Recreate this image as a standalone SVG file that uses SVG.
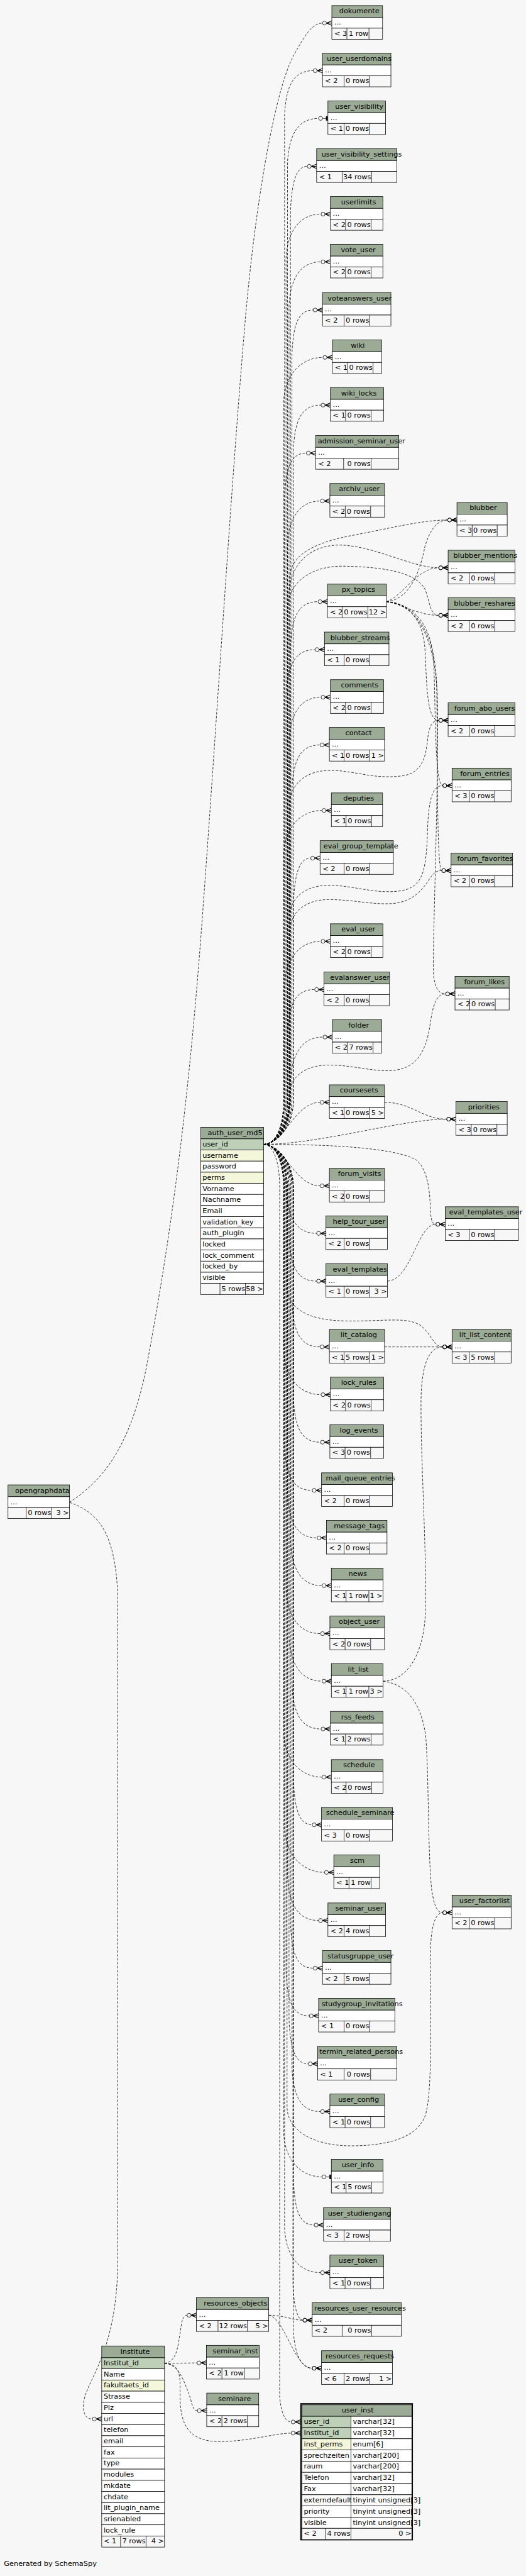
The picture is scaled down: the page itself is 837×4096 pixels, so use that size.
<svg xmlns="http://www.w3.org/2000/svg" width="837" height="4096" viewBox="0 0 837 4096">
<style>
.h{fill:#9bab96;stroke:#000}
.w{fill:#fff;stroke:#000}
.f{fill:#f7f7f7;stroke:#000}
.p{fill:#bed1b8;stroke:#000}
.i{fill:#f4f7da;stroke:#000}
.l{stroke:#000;fill:none}
text{font-family:"DejaVu Sans","Liberation Sans",sans-serif;font-size:14.5px;fill:#000}
.r{text-anchor:end}
.e{fill:none;stroke:#000;stroke-width:1;stroke-dasharray:5 3;marker-end:url(#crow)}
.t{marker-end:url(#tee)}
</style>
<defs>
<marker id="crow" markerUnits="userSpaceOnUse" viewBox="-1 -6 22 12" refX="0" refY="0" markerWidth="22" markerHeight="12" orient="auto">
<circle cx="4" cy="0" r="4" fill="none" stroke="#000" stroke-width="1"/>
<path d="M8,0L19,-4.5M8,0L19,4.5M8,0H19" stroke="#000" stroke-width="1.4" fill="none"/>
</marker>
<marker id="tee" markerUnits="userSpaceOnUse" viewBox="-1 -6 22 12" refX="0" refY="0" markerWidth="22" markerHeight="12" orient="auto">
<circle cx="4" cy="0" r="4" fill="none" stroke="#000" stroke-width="1"/>
<path d="M8,0H19" stroke="#000" stroke-width="1" fill="none"/>
<rect x="15" y="-4.5" width="3.5" height="9" fill="#000"/>
</marker>
</defs>
<rect width="837" height="4096" fill="#f7f7f7"/>
<g transform="scale(0.78078)">
<g id="connectors">
<path class="e" d="M141.7,3059.7C200,3020 265,2960 300,2776C340,2560 380,2300 410,1900C440,1500 470,1000 500,650C520,420 560,180 600,110C620,75 635,47.1 657.3,47.1"/>
<path class="e" d="M141.7,3059.7C200,3080 235,3120 240,3250L240,4600C240,4800 170,4850 170,4900C170,4920 178,4926.3 188.3,4926.3"/>
<path class="e" d="M537.3,2330.5C560,2330.5 580,2300 580,2240L580,233.9C583,173.9 598.3,143.9 638.3,143.9"/>
<path class="e t" d="M537.3,2330.5C560,2330.5 586,2300 586,2240L586,331.1C589,271.1 609.3,241.1 649.3,241.1"/>
<path class="e" d="M537.3,2330.5C560,2330.5 592,2300 592,2240L592,428.7C595,368.7 604,338.7 626.3,338.7"/>
<path class="e" d="M537.3,2330.5C560,2330.5 583,2300 583,2240L583,526C586,466 614.3,436 654.3,436"/>
<path class="e" d="M537.3,2330.5C560,2330.5 589,2300 589,2240L589,623.2C592,563.2 614.3,533.2 654.3,533.2"/>
<path class="e" d="M537.3,2330.5C560,2330.5 595,2300 595,2240L595,721.3C598,661.3 607,631.3 638.3,631.3"/>
<path class="e" d="M537.3,2330.5C560,2330.5 578,2300 578,2240L578,817.8C581,757.8 618.3,727.8 658.3,727.8"/>
<path class="e" d="M537.3,2330.5C560,2330.5 598,2300 598,2240L598,915C601,855 614.3,825 654.3,825"/>
<path class="e" d="M537.3,2330.5C560,2330.5 580,2300 580,2240L580,1012.7C583,952.7 592,922.7 624.3,922.7"/>
<path class="e" d="M537.3,2330.5C560,2330.5 586,2300 586,2240L586,1110.3C589,1050.3 613.3,1020.3 653.3,1020.3"/>
<path class="e" d="M537.3,2330.5C560,2330.5 592,2300 592,2240L592,1315.3C595,1255.3 608.3,1225.3 648.3,1225.3"/>
<path class="e" d="M537.3,2330.5C560,2330.5 583,2300 583,2240L583,1412.9C586,1352.9 602.3,1322.9 642.3,1322.9"/>
<path class="e" d="M537.3,2330.5C560,2330.5 589,2300 589,2240L589,1509.9C592,1449.9 614.3,1419.9 654.3,1419.9"/>
<path class="e" d="M537.3,2330.5C560,2330.5 595,2300 595,2240L595,1607.1C598,1547.1 612.3,1517.1 652.3,1517.1"/>
<path class="e" d="M537.3,2330.5C560,2330.5 578,2300 578,2240L578,1740.5C581,1680.5 616.3,1650.5 656.3,1650.5"/>
<path class="e" d="M537.3,2330.5C560,2330.5 598,2300 598,2240L598,1837.7C601,1777.7 610,1747.7 633.3,1747.7"/>
<path class="e" d="M537.3,2330.5C560,2330.5 580,2300 580,2240L580,2007C583,1947 614.3,1917 654.3,1917"/>
<path class="e" d="M537.3,2330.5C560,2330.5 586,2300 586,2240L586,2105.2C589,2045.2 601.3,2015.2 641.3,2015.2"/>
<path class="e" d="M537.3,2330.5C560,2330.5 592,2300 592,2240L592,2202C595,2142 618.3,2112 658.3,2112"/>
<path class="e" d="M537.3,2330.5C580,2330.5 600,2245 652.3,2245"/>
<path class="e" d="M537.3,2330.5C580,2330.5 600,2415 652.3,2415"/>
<path class="e" d="M537.3,2330.5C560,2330.5 583,2360 583,2420L583,2421.8C586,2481.8 605.3,2511.8 645.3,2511.8"/>
<path class="e" d="M537.3,2330.5C560,2330.5 589,2360 589,2420L589,2519.1C592,2579.1 605.3,2609.1 645.3,2609.1"/>
<path class="e" d="M537.3,2330.5C560,2330.5 595,2360 595,2420L595,2653C598,2713 612.3,2743 652.3,2743"/>
<path class="e" d="M537.3,2330.5C560,2330.5 578,2360 578,2420L578,2750.3C581,2810.3 614.3,2840.3 654.3,2840.3"/>
<path class="e" d="M537.3,2330.5C560,2330.5 598,2360 598,2420L598,2847.1C601,2907.1 613.3,2937.1 653.3,2937.1"/>
<path class="e" d="M537.3,2330.5C560,2330.5 580,2360 580,2420L580,2945.1C583,3005.1 596.3,3035.1 636.3,3035.1"/>
<path class="e" d="M537.3,2330.5C560,2330.5 586,2360 586,2420L586,3041.9C589,3101.9 606.3,3131.9 646.3,3131.9"/>
<path class="e" d="M537.3,2330.5C560,2330.5 592,2360 592,2420L592,3139.2C595,3199.2 616.3,3229.2 656.3,3229.2"/>
<path class="e" d="M537.3,2330.5C560,2330.5 583,2360 583,2420L583,3236.9C586,3296.9 613.3,3326.9 653.3,3326.9"/>
<path class="e" d="M537.3,2330.5C560,2330.5 589,2360 589,2420L589,3333.7C592,3393.7 616.3,3423.7 656.3,3423.7"/>
<path class="e" d="M537.3,2330.5C560,2330.5 595,2360 595,2420L595,3431C598,3491 614.3,3521 654.3,3521"/>
<path class="e" d="M537.3,2330.5C560,2330.5 578,2360 578,2420L578,3529.1C581,3589.1 616.3,3619.1 656.3,3619.1"/>
<path class="e" d="M537.3,2330.5C560,2330.5 598,2360 598,2420L598,3626.3C601,3686.3 610,3716.3 636.3,3716.3"/>
<path class="e" d="M537.3,2330.5C560,2330.5 580,2360 580,2420L580,3723.1C583,3783.1 621.3,3813.1 661.3,3813.1"/>
<path class="e" d="M537.3,2330.5C560,2330.5 586,2360 586,2420L586,3821.1C589,3881.1 609.3,3911.1 649.3,3911.1"/>
<path class="e" d="M537.3,2330.5C560,2330.5 592,2360 592,2420L592,3918.1C595,3978.1 604,4008.1 638.3,4008.1"/>
<path class="e" d="M537.3,2330.5C560,2330.5 583,2360 583,2420L583,4015.3C586,4075.3 595,4105.3 630.3,4105.3"/>
<path class="e" d="M537.3,2330.5C560,2330.5 589,2360 589,2420L589,4113C592,4173 601,4203 628.3,4203"/>
<path class="e" d="M537.3,2330.5C560,2330.5 595,2360 595,2420L595,4210.2C598,4270.2 613.3,4300.2 653.3,4300.2"/>
<path class="e t" d="M537.3,2330.5C560,2330.5 578,2360 578,2420L578,4343.2C581,4403.2 616.3,4433.2 656.3,4433.2"/>
<path class="e" d="M537.3,2330.5C560,2330.5 598,2360 598,2420L598,4441.3C601,4501.3 610,4531.3 640.3,4531.3"/>
<path class="e" d="M537.3,2330.5C560,2330.5 580,2360 580,2420L580,4538.2C583,4598.2 613.3,4628.2 653.3,4628.2"/>
<path class="e" d="M537.3,2330.5C560,2330.5 597,2360 597,2420L597,4650C598,4690 605,4725.1 617.3,4725.1"/>
<path class="e" d="M537.3,2330.5C560,2330.5 598,2360 598,2420L598,4745C600,4790 612,4822.9 636.3,4822.9"/>
<path class="e" d="M537.3,2330.5C555,2330.5 570,2360 570,2420L570,4880C572,4910 580,4932.3 593.3,4932.3"/>
<path class="e" d="M537.3,2330.5C560,2330.5 590,2300 590,2240L590,1180C590,1130 640,1105 720,1090C800,1075 860,1059 912.3,1059"/>
<path class="e" d="M537.3,2330.5C560,2330.5 588,2300 588,2240L588,1220C588,1160 620,1112 690,1110C760,1110 840,1156.3 894.3,1156.3"/>
<path class="e" d="M537.3,2330.5C560,2330.5 586,2300 586,2240L586,1240C586,1190 630,1152 700,1153C800,1155 850,1170 866,1200C876,1222 875,1253.1 894.3,1253.1"/>
<path class="e" d="M537.3,2330.5C560,2330.5 590,2300 590,2240L590,1640C590,1600 620,1570 670,1569C720,1568 760,1588 820,1580C860,1575 868,1540 871,1510C874,1480 880,1467 894.3,1467"/>
<path class="e" d="M537.3,2330.5C560,2330.5 590,2300 590,2240L590,1870C590,1830 620,1803 670,1803C720,1803 760,1820 810,1815C860,1810 868,1780 871,1700C873,1630 880,1600 902.3,1600"/>
<path class="e" d="M537.3,2330.5C560,2330.5 590,2300 590,2240L590,1900C590,1860 620,1832 670,1832C720,1832 760,1843 800,1840C850,1836 868,1800 878,1786C885,1777 890,1773 900.3,1773"/>
<path class="e" d="M537.3,2330.5C560,2330.5 590,2290 590,2250L590,2230C590,2195 620,2169 670,2169C720,2169 760,2183 800,2180C850,2176 868,2140 876,2090C882,2045 890,2024 908.3,2024"/>
<path class="e" d="M537.3,2330.5C650,2330.5 820,2279.1 910.3,2279.1"/>
<path class="e" d="M537.3,2330.5C650,2330.5 800,2335 848,2362C873,2382 876,2430 877,2460C878,2482 880,2493.3 888.3,2493.3"/>
<path class="e" d="M537.3,2330.5C560,2330.5 585,2360 585,2420L585,2620C585,2660 620,2688 700,2690C780,2692 830,2680 858,2700C878,2715 884,2743 902.3,2743"/>
<path class="e" d="M537.3,2330.5C560,2330.5 585,2360 585,2420L585,4290C585,4340 640,4371 720,4370C800,4369 850,4350 866,4310C882,4270 877,4100 877,3990C877,3930 885,3895.2 902.3,3895.2"/>
<path class="e" d="M787.7,1225.3C820,1222 850,1195 866,1113C876,1080 890,1059 912.3,1059"/>
<path class="e" d="M787.7,1225.3C820,1215 850,1156.3 894.3,1156.3"/>
<path class="e" d="M787.7,1225.3C820,1230 850,1253.1 894.3,1253.1"/>
<path class="e" d="M787.7,1225.3C840,1230 862,1270 866,1320C870,1400 870,1467 894.3,1467"/>
<path class="e" d="M787.7,1225.3C840,1228 880,1270 884,1350C888,1450 886,1600 902.3,1600"/>
<path class="e" d="M787.7,1225.3C840,1228 888,1280 890,1400C892,1550 890,1773 900.3,1773"/>
<path class="e" d="M787.7,1225.3C845,1230 892,1290 892,1450C892,1700 880,1950 884,1990C888,2015 895,2024 908.3,2024"/>
<path class="e" d="M783.7,2245C840,2245 860,2279.1 910.3,2279.1"/>
<path class="e" d="M789.7,2609.1C840,2605 850,2493.3 888.3,2493.3"/>
<path class="e" d="M783.7,2743L902.3,2743"/>
<path class="e" d="M780.7,3423.7C830,3423 860,3370 866,3300C872,3200 858,3000 858,2860C858,2790 870,2743 902.3,2743"/>
<path class="e" d="M780.7,3423.7C830,3430 860,3470 868,3540C874,3620 872,3780 880,3850C885,3880 890,3895.2 902.3,3895.2"/>
<path class="e" d="M547.7,4715C580,4715 595,4725.1 617.3,4725.1"/>
<path class="e" d="M547.7,4715C580,4720 600,4822.9 636.3,4822.9"/>
<path class="e" d="M335.3,4812.8C360,4810 362,4780 366,4758C370,4735 370,4715 381.3,4715"/>
<path class="e" d="M335.3,4812.8L401.7,4812.1"/>
<path class="e" d="M335.3,4812.8C365,4815 375,4850 385,4875C392,4895 392,4909.2 402.3,4909.2"/>
<path class="e" d="M335.3,4812.8C370,4815 367,4840 367,4880C367,4930 380,4970 440,4972C500,4974 560,4955.1 593.3,4955.1"/>
</g>

<g id="dokumente" transform="translate(676.3,11.4)"><rect class="h" width="103.4" height="24"/><rect class="w" y="24" width="103.4" height="22"/><rect class="f" y="46" width="103.4" height="22.6"/><path class="l" d="M30.7,46v22.6M75.7,46v22.6"/><text x="15" y="16">dokumente</text><text x="5" y="39">...</text><text x="5" y="61.5">&lt; 3</text><text class="r" x="74.7" y="61.5">1 row</text></g>
<g id="user_userdomains" transform="translate(657.3,108.2)"><rect class="h" width="139.4" height="24"/><rect class="w" y="24" width="139.4" height="22"/><rect class="f" y="46" width="139.4" height="22.6"/><path class="l" d="M44,46v22.6M96,46v22.6"/><text x="8.7" y="16">user_userdomains</text><text x="5" y="39">...</text><text x="5" y="61.5">&lt; 2</text><text class="r" x="95" y="61.5">0 rows</text></g>
<g id="user_visibility" transform="translate(668.3,205.4)"><rect class="h" width="117.4" height="24"/><rect class="w" y="24" width="117.4" height="22"/><rect class="f" y="46" width="117.4" height="22.6"/><path class="l" d="M33,46v22.6M84.7,46v22.6"/><text x="14.7" y="16">user_visibility</text><text x="5" y="39">...</text><text x="5" y="61.5">&lt; 1</text><text class="r" x="83.7" y="61.5">0 rows</text></g>
<g id="user_visibility_settings" transform="translate(645.3,303)"><rect class="h" width="163.4" height="24"/><rect class="w" y="24" width="163.4" height="22"/><rect class="f" y="46" width="163.4" height="22.6"/><path class="l" d="M52,46v22.6M112,46v22.6"/><text x="10" y="16">user_visibility_settings</text><text x="5" y="39">...</text><text x="5" y="61.5">&lt; 1</text><text class="r" x="111" y="61.5">34 rows</text></g>
<g id="userlimits" transform="translate(673.3,400.3)"><rect class="h" width="107" height="24"/><rect class="w" y="24" width="107" height="22"/><rect class="f" y="46" width="107" height="22.6"/><path class="l" d="M31,46v22.6M83,46v22.6"/><text x="22" y="16">userlimits</text><text x="5" y="39">...</text><text x="5" y="61.5">&lt; 2</text><text class="r" x="82" y="61.5">0 rows</text></g>
<g id="vote_user" transform="translate(673.3,497.5)"><rect class="h" width="107" height="24"/><rect class="w" y="24" width="107" height="22"/><rect class="f" y="46" width="107" height="22.6"/><path class="l" d="M31,46v22.6M83,46v22.6"/><text x="21.4" y="16">vote_user</text><text x="5" y="39">...</text><text x="5" y="61.5">&lt; 2</text><text class="r" x="82" y="61.5">0 rows</text></g>
<g id="voteanswers_user" transform="translate(657.3,595.6)"><rect class="h" width="139.4" height="24"/><rect class="w" y="24" width="139.4" height="22"/><rect class="f" y="46" width="139.4" height="22.6"/><path class="l" d="M44,46v22.6M96,46v22.6"/><text x="10.4" y="16">voteanswers_user</text><text x="5" y="39">...</text><text x="5" y="61.5">&lt; 2</text><text class="r" x="95" y="61.5">0 rows</text></g>
<g id="wiki" transform="translate(677.3,692.1)"><rect class="h" width="100.4" height="24"/><rect class="w" y="24" width="100.4" height="22"/><rect class="f" y="46" width="100.4" height="22.6"/><path class="l" d="M31,46v22.6M83,46v22.6"/><text x="37.7" y="16">wiki</text><text x="5" y="39">...</text><text x="5" y="61.5">&lt; 1</text><text class="r" x="82" y="61.5">0 rows</text></g>
<g id="wiki_locks" transform="translate(673.3,789.3)"><rect class="h" width="108.4" height="24"/><rect class="w" y="24" width="108.4" height="22"/><rect class="f" y="46" width="108.4" height="22.6"/><path class="l" d="M31,46v22.6M83,46v22.6"/><text x="22" y="16">wiki_locks</text><text x="5" y="39">...</text><text x="5" y="61.5">&lt; 1</text><text class="r" x="82" y="61.5">0 rows</text></g>
<g id="admission_seminar_user" transform="translate(643.3,887)"><rect class="h" width="169.4" height="24"/><rect class="w" y="24" width="169.4" height="22"/><rect class="f" y="46" width="169.4" height="22.6"/><path class="l" d="M57,46v22.6M113,46v22.6"/><text x="4.4" y="16">admission_seminar_user</text><text x="5" y="39">...</text><text x="5" y="61.5">&lt; 2</text><text class="r" x="112" y="61.5">0 rows</text></g>
<g id="archiv_user" transform="translate(672.3,984.6)"><rect class="h" width="111.4" height="24"/><rect class="w" y="24" width="111.4" height="22"/><rect class="f" y="46" width="111.4" height="22.6"/><path class="l" d="M31.4,46v22.6M83,46v22.6"/><text x="18.4" y="16">archiv_user</text><text x="5" y="39">...</text><text x="5" y="61.5">&lt; 2</text><text class="r" x="82" y="61.5">0 rows</text></g>
<g id="px_topics" transform="translate(667.3,1189.6)"><rect class="h" width="120.4" height="24"/><rect class="w" y="24" width="120.4" height="22"/><rect class="f" y="46" width="120.4" height="22.6"/><path class="l" d="M30,46v22.6M82.4,46v22.6"/><text x="29" y="16">px_topics</text><text x="5" y="39">...</text><text x="5" y="61.5">&lt; 2</text><text class="r" x="81.4" y="61.5">0 rows</text><text class="r" x="119.4" y="61.5">12 &gt;</text></g>
<g id="blubber_streams" transform="translate(661.3,1287.2)"><rect class="h" width="131.4" height="24"/><rect class="w" y="24" width="131.4" height="22"/><rect class="f" y="46" width="131.4" height="22.6"/><path class="l" d="M40,46v22.6M92,46v22.6"/><text x="12" y="16">blubber_streams</text><text x="5" y="39">...</text><text x="5" y="61.5">&lt; 1</text><text class="r" x="91" y="61.5">0 rows</text></g>
<g id="comments" transform="translate(673.3,1384.2)"><rect class="h" width="108.4" height="24"/><rect class="w" y="24" width="108.4" height="22"/><rect class="f" y="46" width="108.4" height="22.6"/><path class="l" d="M31,46v22.6M83,46v22.6"/><text x="21.4" y="16">comments</text><text x="5" y="39">...</text><text x="5" y="61.5">&lt; 2</text><text class="r" x="82" y="61.5">0 rows</text></g>
<g id="contact" transform="translate(671.3,1481.4)"><rect class="h" width="112.4" height="24"/><rect class="w" y="24" width="112.4" height="22"/><rect class="f" y="46" width="112.4" height="22.6"/><path class="l" d="M30,46v22.6M82,46v22.6"/><text x="32.4" y="16">contact</text><text x="5" y="39">...</text><text x="5" y="61.5">&lt; 1</text><text class="r" x="81" y="61.5">0 rows</text><text class="r" x="111.4" y="61.5">1 &gt;</text></g>
<g id="deputies" transform="translate(675.3,1614.8)"><rect class="h" width="104.4" height="24"/><rect class="w" y="24" width="104.4" height="22"/><rect class="f" y="46" width="104.4" height="22.6"/><path class="l" d="M30,46v22.6M82,46v22.6"/><text x="24.4" y="16">deputies</text><text x="5" y="39">...</text><text x="5" y="61.5">&lt; 1</text><text class="r" x="81" y="61.5">0 rows</text></g>
<g id="eval_group_template" transform="translate(652.3,1712)"><rect class="h" width="149.4" height="24"/><rect class="w" y="24" width="149.4" height="22"/><rect class="f" y="46" width="149.4" height="22.6"/><path class="l" d="M49,46v22.6M101,46v22.6"/><text x="7" y="16">eval_group_template</text><text x="5" y="39">...</text><text x="5" y="61.5">&lt; 2</text><text class="r" x="100" y="61.5">0 rows</text></g>
<g id="eval_user" transform="translate(673.3,1881.3)"><rect class="h" width="107" height="24"/><rect class="w" y="24" width="107" height="22"/><rect class="f" y="46" width="107" height="22.6"/><path class="l" d="M31,46v22.6M83,46v22.6"/><text x="22.4" y="16">eval_user</text><text x="5" y="39">...</text><text x="5" y="61.5">&lt; 2</text><text class="r" x="82" y="61.5">0 rows</text></g>
<g id="evalanswer_user" transform="translate(660.3,1979.5)"><rect class="h" width="133.4" height="24"/><rect class="w" y="24" width="133.4" height="22"/><rect class="f" y="46" width="133.4" height="22.6"/><path class="l" d="M41,46v22.6M93,46v22.6"/><text x="12.4" y="16">evalanswer_user</text><text x="5" y="39">...</text><text x="5" y="61.5">&lt; 2</text><text class="r" x="92" y="61.5">0 rows</text></g>
<g id="folder" transform="translate(677.3,2076.3)"><rect class="h" width="100.4" height="24"/><rect class="w" y="24" width="100.4" height="22"/><rect class="f" y="46" width="100.4" height="22.6"/><path class="l" d="M31,46v22.6M83,46v22.6"/><text x="32.7" y="16">folder</text><text x="5" y="39">...</text><text x="5" y="61.5">&lt; 2</text><text class="r" x="82" y="61.5">7 rows</text></g>
<g id="coursesets" transform="translate(671.3,2209.3)"><rect class="h" width="112.4" height="24"/><rect class="w" y="24" width="112.4" height="22"/><rect class="f" y="46" width="112.4" height="22.6"/><path class="l" d="M30,46v22.6M82,46v22.6"/><text x="21.4" y="16">coursesets</text><text x="5" y="39">...</text><text x="5" y="61.5">&lt; 1</text><text class="r" x="81" y="61.5">0 rows</text><text class="r" x="111.4" y="61.5">5 &gt;</text></g>
<g id="forum_visits" transform="translate(671.3,2379.3)"><rect class="h" width="112.4" height="24"/><rect class="w" y="24" width="112.4" height="22"/><rect class="f" y="46" width="112.4" height="22.6"/><path class="l" d="M30,46v22.6M82,46v22.6"/><text x="17.4" y="16">forum_visits</text><text x="5" y="39">...</text><text x="5" y="61.5">&lt; 2</text><text class="r" x="81" y="61.5">0 rows</text></g>
<g id="help_tour_user" transform="translate(664.3,2476.1)"><rect class="h" width="125.4" height="24"/><rect class="w" y="24" width="125.4" height="22"/><rect class="f" y="46" width="125.4" height="22.6"/><path class="l" d="M37,46v22.6M89,46v22.6"/><text x="14" y="16">help_tour_user</text><text x="5" y="39">...</text><text x="5" y="61.5">&lt; 2</text><text class="r" x="88" y="61.5">0 rows</text></g>
<g id="eval_templates" transform="translate(664.3,2573.4)"><rect class="h" width="125.4" height="24"/><rect class="w" y="24" width="125.4" height="22"/><rect class="f" y="46" width="125.4" height="22.6"/><path class="l" d="M37,46v22.6M89,46v22.6"/><text x="14" y="16">eval_templates</text><text x="5" y="39">...</text><text x="5" y="61.5">&lt; 1</text><text class="r" x="88" y="61.5">0 rows</text><text class="r" x="124.4" y="61.5">3 &gt;</text></g>
<g id="lit_catalog" transform="translate(671.3,2707.3)"><rect class="h" width="112.4" height="24"/><rect class="w" y="24" width="112.4" height="22"/><rect class="f" y="46" width="112.4" height="22.6"/><path class="l" d="M30,46v22.6M82,46v22.6"/><text x="22.7" y="16">lit_catalog</text><text x="5" y="39">...</text><text x="5" y="61.5">&lt; 1</text><text class="r" x="81" y="61.5">5 rows</text><text class="r" x="111.4" y="61.5">1 &gt;</text></g>
<g id="lock_rules" transform="translate(673.3,2804.6)"><rect class="h" width="108.4" height="24"/><rect class="w" y="24" width="108.4" height="22"/><rect class="f" y="46" width="108.4" height="22.6"/><path class="l" d="M31,46v22.6M83,46v22.6"/><text x="21.7" y="16">lock_rules</text><text x="5" y="39">...</text><text x="5" y="61.5">&lt; 2</text><text class="r" x="82" y="61.5">0 rows</text></g>
<g id="log_events" transform="translate(672.3,2901.4)"><rect class="h" width="109.4" height="24"/><rect class="w" y="24" width="109.4" height="22"/><rect class="f" y="46" width="109.4" height="22.6"/><path class="l" d="M31,46v22.6M83,46v22.6"/><text x="20" y="16">log_events</text><text x="5" y="39">...</text><text x="5" y="61.5">&lt; 3</text><text class="r" x="82" y="61.5">0 rows</text></g>
<g id="mail_queue_entries" transform="translate(655.3,2999.4)"><rect class="h" width="144.4" height="24"/><rect class="w" y="24" width="144.4" height="22"/><rect class="f" y="46" width="144.4" height="22.6"/><path class="l" d="M46,46v22.6M98,46v22.6"/><text x="8.7" y="16">mail_queue_entries</text><text x="5" y="39">...</text><text x="5" y="61.5">&lt; 2</text><text class="r" x="97" y="61.5">0 rows</text></g>
<g id="message_tags" transform="translate(665.3,3096.2)"><rect class="h" width="123.4" height="24"/><rect class="w" y="24" width="123.4" height="22"/><rect class="f" y="46" width="123.4" height="22.6"/><path class="l" d="M36,46v22.6M88,46v22.6"/><text x="15" y="16">message_tags</text><text x="5" y="39">...</text><text x="5" y="61.5">&lt; 2</text><text class="r" x="87" y="61.5">0 rows</text></g>
<g id="news" transform="translate(675.3,3193.5)"><rect class="h" width="105.4" height="24"/><rect class="w" y="24" width="105.4" height="22"/><rect class="f" y="46" width="105.4" height="22.6"/><path class="l" d="M30,46v22.6M76.4,46v22.6"/><text x="35" y="16">news</text><text x="5" y="39">...</text><text x="5" y="61.5">&lt; 1</text><text class="r" x="75.4" y="61.5">1 row</text><text class="r" x="104.4" y="61.5">1 &gt;</text></g>
<g id="object_user" transform="translate(672.3,3291.2)"><rect class="h" width="111.4" height="24"/><rect class="w" y="24" width="111.4" height="22"/><rect class="f" y="46" width="111.4" height="22.6"/><path class="l" d="M31,46v22.6M83,46v22.6"/><text x="18" y="16">object_user</text><text x="5" y="39">...</text><text x="5" y="61.5">&lt; 2</text><text class="r" x="82" y="61.5">0 rows</text></g>
<g id="lit_list" transform="translate(675.3,3388)"><rect class="h" width="105.4" height="24"/><rect class="w" y="24" width="105.4" height="22"/><rect class="f" y="46" width="105.4" height="22.6"/><path class="l" d="M30,46v22.6M76.4,46v22.6"/><text x="33.7" y="16">lit_list</text><text x="5" y="39">...</text><text x="5" y="61.5">&lt; 1</text><text class="r" x="75.4" y="61.5">1 row</text><text class="r" x="104.4" y="61.5">3 &gt;</text></g>
<g id="rss_feeds" transform="translate(673.3,3485.3)"><rect class="h" width="107.4" height="24"/><rect class="w" y="24" width="107.4" height="22"/><rect class="f" y="46" width="107.4" height="22.6"/><path class="l" d="M31,46v22.6M83,46v22.6"/><text x="22" y="16">rss_feeds</text><text x="5" y="39">...</text><text x="5" y="61.5">&lt; 1</text><text class="r" x="82" y="61.5">2 rows</text></g>
<g id="schedule" transform="translate(675.3,3583.4)"><rect class="h" width="105.4" height="24"/><rect class="w" y="24" width="105.4" height="22"/><rect class="f" y="46" width="105.4" height="22.6"/><path class="l" d="M30,46v22.6M82,46v22.6"/><text x="24" y="16">schedule</text><text x="5" y="39">...</text><text x="5" y="61.5">&lt; 2</text><text class="r" x="81" y="61.5">0 rows</text></g>
<g id="schedule_seminare" transform="translate(655.3,3680.6)"><rect class="h" width="144.4" height="24"/><rect class="w" y="24" width="144.4" height="22"/><rect class="f" y="46" width="144.4" height="22.6"/><path class="l" d="M46,46v22.6M98,46v22.6"/><text x="9" y="16">schedule_seminare</text><text x="5" y="39">...</text><text x="5" y="61.5">&lt; 3</text><text class="r" x="97" y="61.5">0 rows</text></g>
<g id="scm" transform="translate(680.3,3777.4)"><rect class="h" width="93.4" height="24"/><rect class="w" y="24" width="93.4" height="22"/><rect class="f" y="46" width="93.4" height="22.6"/><path class="l" d="M31,46v22.6M76,46v22.6"/><text x="33" y="16">scm</text><text x="5" y="39">...</text><text x="5" y="61.5">&lt; 1</text><text class="r" x="75" y="61.5">1 row</text></g>
<g id="seminar_user" transform="translate(668.3,3875.4)"><rect class="h" width="117.4" height="24"/><rect class="w" y="24" width="117.4" height="22"/><rect class="f" y="46" width="117.4" height="22.6"/><path class="l" d="M33,46v22.6M85,46v22.6"/><text x="15" y="16">seminar_user</text><text x="5" y="39">...</text><text x="5" y="61.5">&lt; 2</text><text class="r" x="84" y="61.5">4 rows</text></g>
<g id="statusgruppe_user" transform="translate(657.3,3972.4)"><rect class="h" width="139.4" height="24"/><rect class="w" y="24" width="139.4" height="22"/><rect class="f" y="46" width="139.4" height="22.6"/><path class="l" d="M44,46v22.6M96,46v22.6"/><text x="10" y="16">statusgruppe_user</text><text x="5" y="39">...</text><text x="5" y="61.5">&lt; 2</text><text class="r" x="95" y="61.5">5 rows</text></g>
<g id="studygroup_invitations" transform="translate(649.3,4069.6)"><rect class="h" width="155.4" height="24"/><rect class="w" y="24" width="155.4" height="22"/><rect class="f" y="46" width="155.4" height="22.6"/><path class="l" d="M52,46v22.6M104,46v22.6"/><text x="6" y="16">studygroup_invitations</text><text x="5" y="39">...</text><text x="5" y="61.5">&lt; 1</text><text class="r" x="103" y="61.5">0 rows</text></g>
<g id="termin_related_persons" transform="translate(647.3,4167.3)"><rect class="h" width="161.4" height="24"/><rect class="w" y="24" width="161.4" height="22"/><rect class="f" y="46" width="161.4" height="22.6"/><path class="l" d="M54,46v22.6M108,46v22.6"/><text x="3.4" y="16">termin_related_persons</text><text x="5" y="39">...</text><text x="5" y="61.5">&lt; 1</text><text class="r" x="107" y="61.5">0 rows</text></g>
<g id="user_config" transform="translate(672.3,4264.5)"><rect class="h" width="111.4" height="24"/><rect class="w" y="24" width="111.4" height="22"/><rect class="f" y="46" width="111.4" height="22.6"/><path class="l" d="M31,46v22.6M83,46v22.6"/><text x="17" y="16">user_config</text><text x="5" y="39">...</text><text x="5" y="61.5">&lt; 1</text><text class="r" x="82" y="61.5">0 rows</text></g>
<g id="user_info" transform="translate(675.3,4397.5)"><rect class="h" width="105.4" height="24"/><rect class="w" y="24" width="105.4" height="22"/><rect class="f" y="46" width="105.4" height="22.6"/><path class="l" d="M30,46v22.6M82,46v22.6"/><text x="21" y="16">user_info</text><text x="5" y="39">...</text><text x="5" y="61.5">&lt; 1</text><text class="r" x="81" y="61.5">5 rows</text></g>
<g id="user_studiengang" transform="translate(659.3,4495.6)"><rect class="h" width="136.4" height="24"/><rect class="w" y="24" width="136.4" height="22"/><rect class="f" y="46" width="136.4" height="22.6"/><path class="l" d="M42,46v22.6M94,46v22.6"/><text x="9" y="16">user_studiengang</text><text x="5" y="39">...</text><text x="5" y="61.5">&lt; 3</text><text class="r" x="93" y="61.5">2 rows</text></g>
<g id="user_token" transform="translate(672.3,4592.5)"><rect class="h" width="109.4" height="24"/><rect class="w" y="24" width="109.4" height="22"/><rect class="f" y="46" width="109.4" height="22.6"/><path class="l" d="M31,46v22.6M83,46v22.6"/><text x="17.7" y="16">user_token</text><text x="5" y="39">...</text><text x="5" y="61.5">&lt; 1</text><text class="r" x="82" y="61.5">0 rows</text></g>
<g id="resources_user_resources" transform="translate(636.3,4689.4)"><rect class="h" width="181.4" height="24"/><rect class="w" y="24" width="181.4" height="22"/><rect class="f" y="46" width="181.4" height="22.6"/><path class="l" d="M61,46v22.6M121,46v22.6"/><text x="4.4" y="16">resources_user_resources</text><text x="5" y="39">...</text><text x="5" y="61.5">&lt; 2</text><text class="r" x="120" y="61.5">0 rows</text></g>
<g id="resources_requests" transform="translate(655.3,4787.2)"><rect class="h" width="144.4" height="24"/><rect class="w" y="24" width="144.4" height="22"/><rect class="f" y="46" width="144.4" height="22.6"/><path class="l" d="M46,46v22.6M98,46v22.6"/><text x="8" y="16">resources_requests</text><text x="5" y="39">...</text><text x="5" y="61.5">&lt; 6</text><text class="r" x="97" y="61.5">2 rows</text><text class="r" x="143.4" y="61.5">1 &gt;</text></g>

<g id="blubber" transform="translate(931.3,1023.3)"><rect class="h" width="102.4" height="24"/><rect class="w" y="24" width="102.4" height="22"/><rect class="f" y="46" width="102.4" height="22.6"/><path class="l" d="M31,46v22.6M82,46v22.6"/><text x="25.7" y="16">blubber</text><text x="5" y="39">...</text><text x="5" y="61.5">&lt; 3</text><text class="r" x="81" y="61.5">0 rows</text></g>
<g id="blubber_mentions" transform="translate(913.3,1120.6)"><rect class="h" width="136.4" height="24"/><rect class="w" y="24" width="136.4" height="22"/><rect class="f" y="46" width="136.4" height="22.6"/><path class="l" d="M43,46v22.6M95,46v22.6"/><text x="10.7" y="16">blubber_mentions</text><text x="5" y="39">...</text><text x="5" y="61.5">&lt; 2</text><text class="r" x="94" y="61.5">0 rows</text></g>
<g id="blubber_reshares" transform="translate(913.3,1217.4)"><rect class="h" width="136.4" height="24"/><rect class="w" y="24" width="136.4" height="22"/><rect class="f" y="46" width="136.4" height="22.6"/><path class="l" d="M43,46v22.6M95,46v22.6"/><text x="11.7" y="16">blubber_reshares</text><text x="5" y="39">...</text><text x="5" y="61.5">&lt; 2</text><text class="r" x="94" y="61.5">0 rows</text></g>
<g id="forum_abo_users" transform="translate(913.3,1431.3)"><rect class="h" width="136.4" height="24"/><rect class="w" y="24" width="136.4" height="22"/><rect class="f" y="46" width="136.4" height="22.6"/><path class="l" d="M43,46v22.6M95,46v22.6"/><text x="12.4" y="16">forum_abo_users</text><text x="5" y="39">...</text><text x="5" y="61.5">&lt; 2</text><text class="r" x="94" y="61.5">0 rows</text></g>
<g id="forum_entries" transform="translate(921.3,1564.3)"><rect class="h" width="120.4" height="24"/><rect class="w" y="24" width="120.4" height="22"/><rect class="f" y="46" width="120.4" height="22.6"/><path class="l" d="M35,46v22.6M87,46v22.6"/><text x="16.4" y="16">forum_entries</text><text x="5" y="39">...</text><text x="5" y="61.5">&lt; 3</text><text class="r" x="86" y="61.5">0 rows</text></g>
<g id="forum_favorites" transform="translate(919.3,1737.3)"><rect class="h" width="125.4" height="24"/><rect class="w" y="24" width="125.4" height="22"/><rect class="f" y="46" width="125.4" height="22.6"/><path class="l" d="M37,46v22.6M89,46v22.6"/><text x="12.4" y="16">forum_favorites</text><text x="5" y="39">...</text><text x="5" y="61.5">&lt; 2</text><text class="r" x="88" y="61.5">0 rows</text></g>
<g id="forum_likes" transform="translate(927.3,1988.3)"><rect class="h" width="110.4" height="24"/><rect class="w" y="24" width="110.4" height="22"/><rect class="f" y="46" width="110.4" height="22.6"/><path class="l" d="M30,46v22.6M82,46v22.6"/><text x="18.4" y="16">forum_likes</text><text x="5" y="39">...</text><text x="5" y="61.5">&lt; 2</text><text class="r" x="81" y="61.5">0 rows</text></g>
<g id="priorities" transform="translate(929.3,2243.4)"><rect class="h" width="104.4" height="24"/><rect class="w" y="24" width="104.4" height="22"/><rect class="f" y="46" width="104.4" height="22.6"/><path class="l" d="M31,46v22.6M83.4,46v22.6"/><text x="24.7" y="16">priorities</text><text x="5" y="39">...</text><text x="5" y="61.5">&lt; 3</text><text class="r" x="82.4" y="61.5">0 rows</text></g>
<g id="eval_templates_user" transform="translate(907.3,2457.6)"><rect class="h" width="149.4" height="24"/><rect class="w" y="24" width="149.4" height="22"/><rect class="f" y="46" width="149.4" height="22.6"/><path class="l" d="M49,46v22.6M101,46v22.6"/><text x="8" y="16">eval_templates_user</text><text x="5" y="39">...</text><text x="5" y="61.5">&lt; 3</text><text class="r" x="100" y="61.5">0 rows</text></g>
<g id="lit_list_content" transform="translate(921.3,2707.3)"><rect class="h" width="120.4" height="24"/><rect class="w" y="24" width="120.4" height="22"/><rect class="f" y="46" width="120.4" height="22.6"/><path class="l" d="M35,46v22.6M87,46v22.6"/><text x="14.7" y="16">lit_list_content</text><text x="5" y="39">...</text><text x="5" y="61.5">&lt; 3</text><text class="r" x="86" y="61.5">5 rows</text></g>
<g id="user_factorlist" transform="translate(921.3,3859.5)"><rect class="h" width="120.4" height="24"/><rect class="w" y="24" width="120.4" height="22"/><rect class="f" y="46" width="120.4" height="22.6"/><path class="l" d="M35,46v22.6M87,46v22.6"/><text x="14.7" y="16">user_factorlist</text><text x="5" y="39">...</text><text x="5" y="61.5">&lt; 2</text><text class="r" x="86" y="61.5">0 rows</text></g>

<g id="opengraphdata" transform="translate(16.3,3024)"><rect class="h" width="125.4" height="24"/><rect class="w" y="24" width="125.4" height="22"/><rect class="f" y="46" width="125.4" height="22.6"/><path class="l" d="M37,46v22.6M89,46v22.6"/><text x="14.4" y="16">opengraphdata</text><text x="5" y="39">...</text><text class="r" x="88" y="61.5">0 rows</text><text class="r" x="124.4" y="61.5">3 &gt;</text></g>
<g id="resources_objects" transform="translate(400.3,4679.3)"><rect class="h" width="147.4" height="24"/><rect class="w" y="24" width="147.4" height="22"/><rect class="f" y="46" width="147.4" height="22.6"/><path class="l" d="M44,46v22.6M104,46v22.6"/><text x="15" y="16">resources_objects</text><text x="5" y="39">...</text><text x="5" y="61.5">&lt; 2</text><text class="r" x="103" y="61.5">12 rows</text><text class="r" x="146.4" y="61.5">5 &gt;</text></g>
<g id="seminar_inst" transform="translate(420.7,4776.4)"><rect class="h" width="107.6" height="24"/><rect class="w" y="24" width="107.6" height="22"/><rect class="f" y="46" width="107.6" height="22.6"/><path class="l" d="M31.6,46v22.6M77,46v22.6"/><text x="12.6" y="16">seminar_inst</text><text x="5" y="39">...</text><text x="5" y="61.5">&lt; 2</text><text class="r" x="76" y="61.5">1 row</text></g>
<g id="seminare" transform="translate(421.3,4873.5)"><rect class="h" width="106" height="24"/><rect class="w" y="24" width="106" height="22"/><rect class="f" y="46" width="106" height="22.6"/><path class="l" d="M31,46v22.6M83,46v22.6"/><text x="23" y="16">seminare</text><text x="5" y="39">...</text><text x="5" y="61.5">&lt; 2</text><text class="r" x="82" y="61.5">2 rows</text></g>

<g id="auth_user_md5" transform="translate(409.3,2295.7)">
<rect class="h" width="128" height="23.6"/>
<rect class="p" y="23.6" width="128" height="22.64"/>
<rect class="i" y="46.24" width="128" height="22.64"/>
<rect class="w" y="68.88" width="128" height="22.64"/>
<rect class="i" y="91.52" width="128" height="22.64"/>
<rect class="w" y="114.16" width="128" height="22.64"/>
<rect class="w" y="136.8" width="128" height="22.64"/>
<rect class="w" y="159.44" width="128" height="22.64"/>
<rect class="w" y="182.08" width="128" height="22.64"/>
<rect class="w" y="204.72" width="128" height="22.64"/>
<rect class="w" y="227.36" width="128" height="22.64"/>
<rect class="w" y="250" width="128" height="22.64"/>
<rect class="w" y="272.64" width="128" height="22.64"/>
<rect class="w" y="295.28" width="128" height="22.64"/>
<rect class="f" y="317.92" width="128" height="22.64"/>
<path class="l" d="M39,317.92v22.64M91,317.92v22.64"/>
<text x="14" y="16">auth_user_md5</text>
<text x="3.5" y="39.1">user_id</text>
<text x="3.5" y="61.74">username</text>
<text x="3.5" y="84.38">password</text>
<text x="3.5" y="107.02">perms</text>
<text x="3.5" y="129.66">Vorname</text>
<text x="3.5" y="152.3">Nachname</text>
<text x="3.5" y="174.94">Email</text>
<text x="3.5" y="197.58">validation_key</text>
<text x="3.5" y="220.22">auth_plugin</text>
<text x="3.5" y="242.86">locked</text>
<text x="3.5" y="265.5">lock_comment</text>
<text x="3.5" y="288.14">locked_by</text>
<text x="3.5" y="310.78">visible</text>
<text class="r" x="90" y="333.42">5 rows</text>
<text class="r" x="127" y="333.42">58 &gt;</text>
</g>

<g id="Institute" transform="translate(207.3,4777.6)">
<rect class="h" width="128" height="23.9"/>
<rect class="p" y="23.9" width="128" height="22.69"/>
<rect class="w" y="46.59" width="128" height="22.69"/>
<rect class="i" y="69.28" width="128" height="22.69"/>
<rect class="w" y="91.97" width="128" height="22.69"/>
<rect class="w" y="114.66" width="128" height="22.69"/>
<rect class="w" y="137.35" width="128" height="22.69"/>
<rect class="w" y="160.04" width="128" height="22.69"/>
<rect class="w" y="182.73" width="128" height="22.69"/>
<rect class="w" y="205.42" width="128" height="22.69"/>
<rect class="w" y="228.11" width="128" height="22.69"/>
<rect class="w" y="250.8" width="128" height="22.69"/>
<rect class="w" y="273.49" width="128" height="22.69"/>
<rect class="w" y="296.18" width="128" height="22.69"/>
<rect class="w" y="318.87" width="128" height="22.69"/>
<rect class="w" y="341.56" width="128" height="22.69"/>
<rect class="w" y="364.25" width="128" height="22.69"/>
<rect class="f" y="386.94" width="128" height="22.69"/>
<path class="l" d="M38.4,386.94v22.69M90.4,386.94v22.69"/>
<text x="38" y="16">Institute</text>
<text x="4" y="39.4">Institut_id</text>
<text x="4" y="62.09">Name</text>
<text x="4" y="84.78">fakultaets_id</text>
<text x="4" y="107.47">Strasse</text>
<text x="4" y="130.16">Plz</text>
<text x="4" y="152.85">url</text>
<text x="4" y="175.54">telefon</text>
<text x="4" y="198.23">email</text>
<text x="4" y="220.92">fax</text>
<text x="4" y="243.61">type</text>
<text x="4" y="266.3">modules</text>
<text x="4" y="288.99">mkdate</text>
<text x="4" y="311.68">chdate</text>
<text x="4" y="334.37">lit_plugin_name</text>
<text x="4" y="357.06">srienabled</text>
<text x="4" y="379.75">lock_rule</text>
<text x="4" y="402.44">&lt; 1</text>
<text class="r" x="89.4" y="402.44">7 rows</text>
<text class="r" x="127" y="402.44">4 &gt;</text>
</g>

<g id="user_inst">
<rect x="613.3" y="4895.3" width="227" height="276.9" fill="none" stroke="#000" stroke-width="2.5"/>
<g transform="translate(615.3,4897.4)">
<rect class="h" width="224" height="23.5"/>
<rect class="p" y="23.5" width="100" height="22.81"/><rect class="w" x="100" y="23.5" width="124" height="22.81"/>
<rect class="p" y="46.31" width="100" height="22.81"/><rect class="w" x="100" y="46.31" width="124" height="22.81"/>
<rect class="i" y="69.12" width="100" height="22.81"/><rect class="w" x="100" y="69.12" width="124" height="22.81"/>
<rect class="w" y="91.93" width="100" height="22.81"/><rect class="w" x="100" y="91.93" width="124" height="22.81"/>
<rect class="w" y="114.74" width="100" height="22.81"/><rect class="w" x="100" y="114.74" width="124" height="22.81"/>
<rect class="w" y="137.55" width="100" height="22.81"/><rect class="w" x="100" y="137.55" width="124" height="22.81"/>
<rect class="w" y="160.36" width="100" height="22.81"/><rect class="w" x="100" y="160.36" width="124" height="22.81"/>
<rect class="w" y="183.17" width="100" height="22.81"/><rect class="w" x="100" y="183.17" width="124" height="22.81"/>
<rect class="w" y="205.98" width="100" height="22.81"/><rect class="w" x="100" y="205.98" width="124" height="22.81"/>
<rect class="w" y="228.79" width="100" height="22.81"/><rect class="w" x="100" y="228.79" width="124" height="22.81"/>
<rect class="f" y="251.6" width="224" height="22.81"/>
<path class="l" d="M48,251.6v22.81M100,251.6v22.81"/>
<text x="81" y="16">user_inst</text>
<text x="4" y="39">user_id</text><text x="104" y="39">varchar[32]</text>
<text x="4" y="61.81">Institut_id</text><text x="104" y="61.81">varchar[32]</text>
<text x="4" y="84.62">inst_perms</text><text x="104" y="84.62">enum[6]</text>
<text x="4" y="107.43">sprechzeiten</text><text x="104" y="107.43">varchar[200]</text>
<text x="4" y="130.24">raum</text><text x="104" y="130.24">varchar[200]</text>
<text x="4" y="153.05">Telefon</text><text x="104" y="153.05">varchar[32]</text>
<text x="4" y="175.86">Fax</text><text x="104" y="175.86">varchar[32]</text>
<text x="4" y="198.67">externdefault</text><text x="104" y="198.67">tinyint unsigned[3]</text>
<text x="4" y="221.48">priority</text><text x="104" y="221.48">tinyint unsigned[3]</text>
<text x="4" y="244.29">visible</text><text x="104" y="244.29">tinyint unsigned[3]</text>
<text x="4" y="267.1">&lt; 2</text>
<text class="r" x="99" y="267.1">4 rows</text>
<text class="r" x="223" y="267.1">0 &gt;</text>
</g>
</g>

<text x="8" y="5225">Generated by SchemaSpy</text>
</g>
</svg>
